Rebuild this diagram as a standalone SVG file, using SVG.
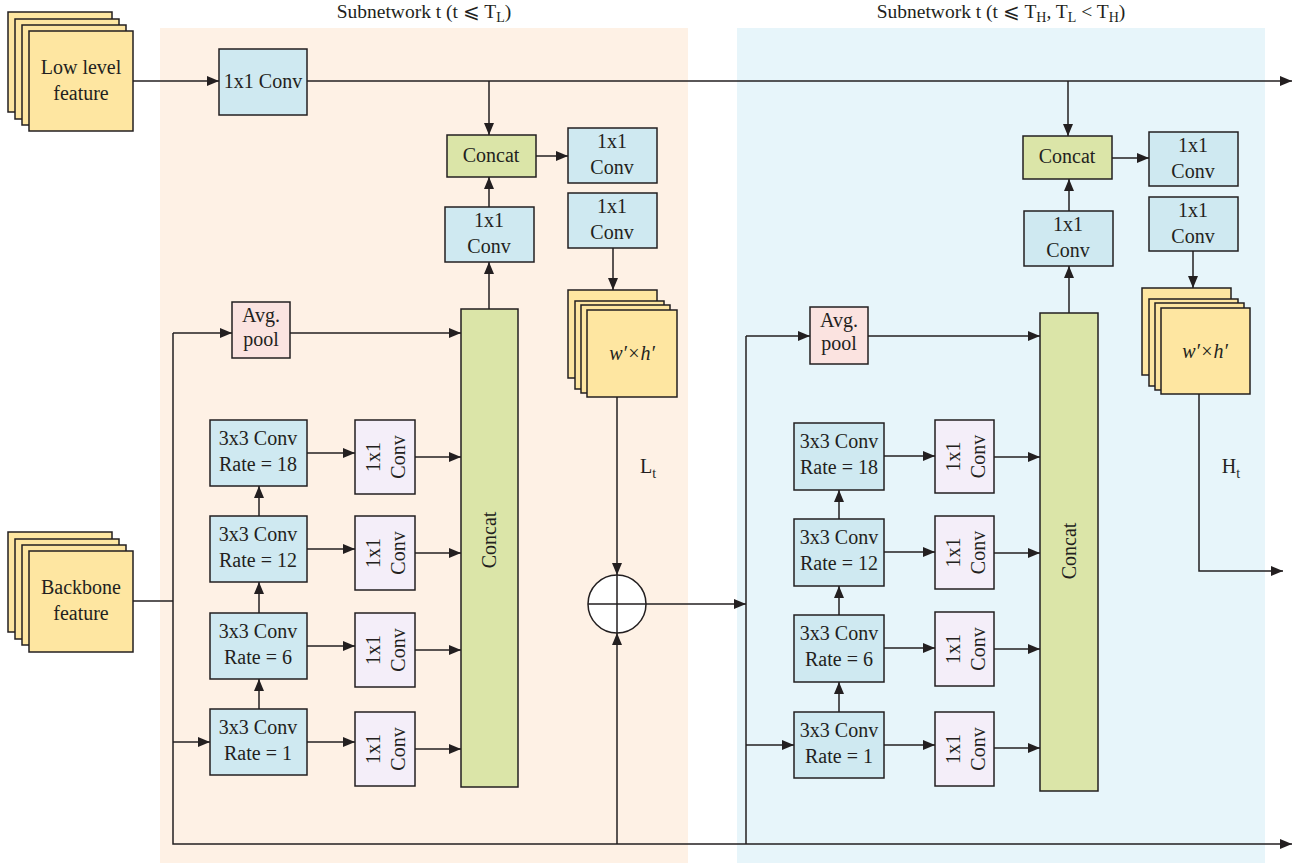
<svg xmlns="http://www.w3.org/2000/svg" width="1309" height="863" viewBox="0 0 1309 863">
<defs>
<marker id="ah" markerWidth="12" markerHeight="10" refX="12" refY="5" orient="auto" markerUnits="userSpaceOnUse"><path d="M0,0 L12,5 L0,10 z" fill="#231f20"/></marker>
<style>
text{font-family:"Liberation Serif","DejaVu Serif",serif;font-size:20px;fill:#231f20;text-anchor:middle}
.title{font-size:19.5px}
.box{stroke:#231f20;stroke-width:1.5}
.feat{fill:#fee6a1}
.blue{fill:#cfe9f1}
.green{fill:#dbe5a8}
.purple{fill:#f4eef9}
.pink{fill:#fbe3e0}
.ln{fill:none;stroke:#231f20;stroke-width:1.5}
.arr{fill:none;stroke:#231f20;stroke-width:1.5;marker-end:url(#ah)}
.it{font-style:italic}
</style>
</defs>
<rect x="0" y="0" width="1309" height="863" fill="#ffffff"/>
<g id="panels">
<rect x="160" y="28" width="528" height="835" fill="#fef1e5"/>
<rect x="737" y="28" width="528" height="835" fill="#e7f5fa"/>
<text class="title" x="424" y="18">Subnetwork t (t ⩽ T<tspan font-size="14" dy="4">L</tspan><tspan dy="-4">)</tspan></text>
<text class="title" x="1001" y="18">Subnetwork t (t ⩽ T<tspan font-size="14" dy="4">H</tspan><tspan dy="-4">, T</tspan><tspan font-size="14" dy="4">L</tspan><tspan dy="-4"> &lt; T</tspan><tspan font-size="14" dy="4">H</tspan><tspan dy="-4">)</tspan></text>
</g>
<g id="connectors">
<path class="arr" d="M133,81 H219"/>
<path class="arr" d="M307,81 H1292"/>
<path class="arr" d="M489,81 V135"/>
<path class="arr" d="M1068,81 V136"/>
<path class="arr" d="M536,156 H568"/>
<path class="arr" d="M489,207 V177"/>
<path class="arr" d="M489,309 V262"/>
<path class="arr" d="M613,248 V290"/>
<path class="arr" d="M617,397 V575"/>
<path class="arr" d="M617,844 V633"/>
<path class="arr" d="M646,604 H746"/>
<path class="ln" d="M133,601 H173"/>
<path class="arr" d="M173,333 V844 H1292"/>
<path class="arr" d="M173,333 H232"/>
<path class="arr" d="M290,333 H461"/>
<path class="arr" d="M173,742 H210"/>
<path class="arr" d="M259,709 V679"/>
<path class="arr" d="M259,613 V582"/>
<path class="arr" d="M259,516 V486"/>
<path class="arr" d="M307,453 H355"/>
<path class="arr" d="M307,549 H355"/>
<path class="arr" d="M307,646 H355"/>
<path class="arr" d="M307,742 H355"/>
<path class="arr" d="M415,457 H461"/>
<path class="arr" d="M415,553 H461"/>
<path class="arr" d="M415,650 H461"/>
<path class="arr" d="M415,749 H461"/>
<path class="ln" d="M746,336 V844"/>
<path class="arr" d="M746,336 H810"/>
<path class="arr" d="M868,336 H1040"/>
<path class="arr" d="M746,745 H794"/>
<path class="arr" d="M839,712 V682"/>
<path class="arr" d="M839,615 V586"/>
<path class="arr" d="M839,519 V490"/>
<path class="arr" d="M884,456 H935"/>
<path class="arr" d="M884,552 H935"/>
<path class="arr" d="M884,648 H935"/>
<path class="arr" d="M884,745 H935"/>
<path class="arr" d="M994,457 H1040"/>
<path class="arr" d="M994,553 H1040"/>
<path class="arr" d="M994,649 H1040"/>
<path class="arr" d="M994,748 H1040"/>
<path class="arr" d="M1069,313 V266"/>
<path class="arr" d="M1069,211 V179"/>
<path class="arr" d="M1112,158 H1149"/>
<path class="arr" d="M1193,251 V288"/>
<path class="arr" d="M1199,394 V571 H1283"/>
</g>
<g id="low-level-feature">
<rect class="box feat" x="8" y="12" width="104" height="100"/>
<rect class="box feat" x="15" y="19" width="104" height="100"/>
<rect class="box feat" x="22" y="25" width="104" height="100"/>
<rect class="box feat" x="29" y="31" width="104" height="100"/>
<text x="81" y="74">Low level</text>
<text x="81" y="100">feature</text>
</g>
<g id="backbone-feature">
<rect class="box feat" x="8" y="532" width="104" height="100"/>
<rect class="box feat" x="15" y="539" width="104" height="100"/>
<rect class="box feat" x="22" y="545" width="104" height="100"/>
<rect class="box feat" x="29" y="551" width="104" height="101"/>
<text x="81" y="594">Backbone</text>
<text x="81" y="620">feature</text>
</g>
<g id="conv-top">
<rect class="box blue" x="219" y="49" width="88" height="66"/>
<text x="263" y="88">1x1 Conv</text>
</g>
<g id="L-concat-small">
<rect class="box green" x="447" y="135" width="89" height="42"/>
<text x="491" y="162">Concat</text>
</g>
<g id="L-conv-a">
<rect class="box blue" x="568" y="128" width="89" height="55"/>
<text x="612" y="148">1x1</text><text x="612" y="174">Conv</text>
</g>
<g id="L-conv-b">
<rect class="box blue" x="568" y="193" width="89" height="55"/>
<text x="612" y="213">1x1</text><text x="612" y="239">Conv</text>
</g>
<g id="L-conv-c">
<rect class="box blue" x="445" y="207" width="89" height="55"/>
<text x="489" y="227">1x1</text><text x="489" y="253">Conv</text>
</g>
<g id="L-stack">
<rect class="box feat" x="568" y="290" width="89" height="88"/>
<rect class="box feat" x="575" y="301" width="89" height="88"/>
<rect class="box feat" x="581" y="305" width="89" height="88"/>
<rect class="box feat" x="587" y="310" width="90" height="87"/>
<text class="it" x="632" y="360">w′×h′</text>
</g>
<g id="L-avgpool">
<rect class="box pink" x="232" y="302" width="58" height="56"/>
<text x="261" y="322">Avg.</text><text x="261" y="346">pool</text>
</g>
<g id="L-concat-big">
<rect class="box green" x="461" y="309" width="57" height="478"/>
<text transform="translate(489,540) rotate(-90)" x="0" y="7">Concat</text>
</g>
<g id="L-r18">
<rect class="box blue" x="210" y="420" width="97" height="66"/>
<text x="258" y="445">3x3 Conv</text><text x="258" y="471">Rate = 18</text>
</g>
<g id="L-r12">
<rect class="box blue" x="210" y="516" width="97" height="66"/>
<text x="258" y="541">3x3 Conv</text><text x="258" y="567">Rate = 12</text>
</g>
<g id="L-r6">
<rect class="box blue" x="210" y="613" width="97" height="66"/>
<text x="258" y="638">3x3 Conv</text><text x="258" y="664">Rate = 6</text>
</g>
<g id="L-r1">
<rect class="box blue" x="210" y="709" width="97" height="66"/>
<text x="258" y="734">3x3 Conv</text><text x="258" y="760">Rate = 1</text>
</g>
<g id="L-p18">
<rect class="box purple" x="355" y="420" width="60" height="74"/>
<g transform="translate(385,457) rotate(-90)"><text x="0" y="-5">1x1</text><text x="0" y="20">Conv</text></g>
</g>
<g id="L-p12">
<rect class="box purple" x="355" y="516" width="60" height="74"/>
<g transform="translate(385,553) rotate(-90)"><text x="0" y="-5">1x1</text><text x="0" y="20">Conv</text></g>
</g>
<g id="L-p6">
<rect class="box purple" x="355" y="613" width="60" height="74"/>
<g transform="translate(385,650) rotate(-90)"><text x="0" y="-5">1x1</text><text x="0" y="20">Conv</text></g>
</g>
<g id="L-p1">
<rect class="box purple" x="355" y="712" width="60" height="74"/>
<g transform="translate(385,749) rotate(-90)"><text x="0" y="-5">1x1</text><text x="0" y="20">Conv</text></g>
</g>
<g id="sum">
<circle class="box" cx="617" cy="604" r="29" fill="#ffffff"/>
<path class="ln" d="M588,604 H646 M617,575 V633"/>
</g>
<g id="Lt-label"><text x="648" y="473">L<tspan font-size="14" dy="5">t</tspan></text></g>
<g id="R-concat-small">
<rect class="box green" x="1023" y="136" width="89" height="43"/>
<text x="1067" y="163">Concat</text>
</g>
<g id="R-conv-a">
<rect class="box blue" x="1149" y="132" width="89" height="54"/>
<text x="1193" y="152">1x1</text><text x="1193" y="178">Conv</text>
</g>
<g id="R-conv-b">
<rect class="box blue" x="1149" y="197" width="89" height="54"/>
<text x="1193" y="217">1x1</text><text x="1193" y="243">Conv</text>
</g>
<g id="R-conv-c">
<rect class="box blue" x="1024" y="211" width="89" height="55"/>
<text x="1068" y="231">1x1</text><text x="1068" y="257">Conv</text>
</g>
<g id="R-stack">
<rect class="box feat" x="1142" y="288" width="89" height="87"/>
<rect class="box feat" x="1149" y="299" width="89" height="87"/>
<rect class="box feat" x="1155" y="303" width="89" height="87"/>
<rect class="box feat" x="1161" y="308" width="89" height="86"/>
<text class="it" x="1205" y="358">w′×h′</text>
</g>
<g id="Ht-label"><text x="1231" y="473">H<tspan font-size="14" dy="5">t</tspan></text></g>
<g id="R-avgpool">
<rect class="box pink" x="810" y="307" width="58" height="57"/>
<text x="839" y="327">Avg.</text><text x="839" y="350">pool</text>
</g>
<g id="R-concat-big">
<rect class="box green" x="1040" y="313" width="58" height="478"/>
<text transform="translate(1069,551) rotate(-90)" x="0" y="7">Concat</text>
</g>
<g id="R-r18">
<rect class="box blue" x="794" y="423" width="90" height="67"/>
<text x="839" y="448">3x3 Conv</text><text x="839" y="474">Rate = 18</text>
</g>
<g id="R-r12">
<rect class="box blue" x="794" y="519" width="90" height="67"/>
<text x="839" y="544">3x3 Conv</text><text x="839" y="570">Rate = 12</text>
</g>
<g id="R-r6">
<rect class="box blue" x="794" y="615" width="90" height="67"/>
<text x="839" y="640">3x3 Conv</text><text x="839" y="666">Rate = 6</text>
</g>
<g id="R-r1">
<rect class="box blue" x="794" y="712" width="90" height="66"/>
<text x="839" y="737">3x3 Conv</text><text x="839" y="763">Rate = 1</text>
</g>
<g id="R-p18">
<rect class="box purple" x="935" y="420" width="59" height="73"/>
<g transform="translate(964.5,456.5) rotate(-90)"><text x="0" y="-5">1x1</text><text x="0" y="20">Conv</text></g>
</g>
<g id="R-p12">
<rect class="box purple" x="935" y="516" width="59" height="73"/>
<g transform="translate(964.5,552.5) rotate(-90)"><text x="0" y="-5">1x1</text><text x="0" y="20">Conv</text></g>
</g>
<g id="R-p6">
<rect class="box purple" x="935" y="612" width="59" height="74"/>
<g transform="translate(964.5,649) rotate(-90)"><text x="0" y="-5">1x1</text><text x="0" y="20">Conv</text></g>
</g>
<g id="R-p1">
<rect class="box purple" x="935" y="712" width="59" height="74"/>
<g transform="translate(964.5,749) rotate(-90)"><text x="0" y="-5">1x1</text><text x="0" y="20">Conv</text></g>
</g>
</svg>
